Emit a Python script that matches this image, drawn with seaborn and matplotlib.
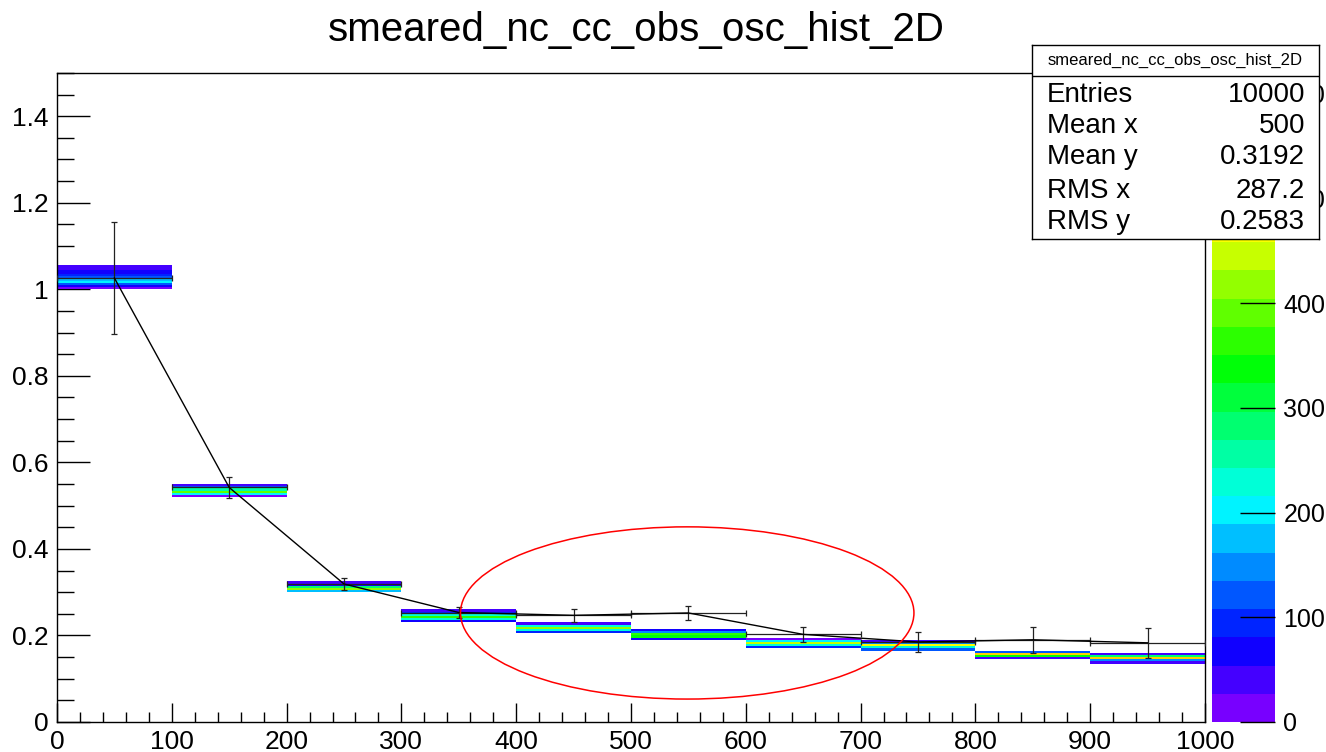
# smeared_nc_cc_obs_osc_hist_2D - 2D hist (COLZ) + profile na wierzchu
import numpy as np
import pandas as pd
import seaborn as sns
import matplotlib.pyplot as plt
from matplotlib.colors import ListedColormap, hsv_to_rgb
from matplotlib.patches import Ellipse
from matplotlib.ticker import MultipleLocator, FuncFormatter

plt.rcParams['font.family'] = ['Liberation Sans', 'DejaVu Sans']

# %%
# Data
x_centers = [50, 150, 250, 350, 450, 550, 650, 750, 850, 950]
x_edges = np.arange(0, 1001, 100)
dy = 0.005
y_edges = np.arange(0, 1.5 + dy / 2, dy)

# low edge of first filled y row per x bin, counts bottom -> top
row_low = [1.000, 0.520, 0.300, 0.230, 0.205, 0.190, 0.170, 0.165, 0.145, 0.135]
row_counts = [
    [20, 60, 120, 190, 170, 130, 100, 80, 60, 40, 30],
    [20, 200, 380, 250, 110, 40],
    [180, 420, 290, 80, 30],
    [60, 230, 360, 230, 90, 30],
    [90, 230, 410, 220, 50],
    [70, 350, 370, 150, 60],
    [100, 230, 450, 200, 20],
    [110, 220, 460, 160, 50],
    [50, 330, 500, 120],
    [30, 150, 490, 290, 40],
]

# profile (mean y per x bin) with errors
prof_mean = [1.026, 0.542, 0.319, 0.253, 0.2465, 0.252, 0.2025, 0.185, 0.19, 0.183]
prof_err = [0.13, 0.025, 0.014, 0.013, 0.015, 0.017, 0.018, 0.023, 0.03, 0.035]

stat_names = ['Entries', 'Mean x', 'Mean y', 'RMS x', 'RMS y']
stat_values = ['10000', '500', '0.3192', '287.2', '0.2583']

z_max = 620
n_levels = 23

# %%
rows = []
for xc, lo, counts in zip(x_centers, row_low, row_counts):
    for i, c in enumerate(counts):
        rows.append((xc, lo + (i + 0.5) * dy, c))
df = pd.DataFrame(rows, columns=['x', 'y', 'w'])

# ROOT-like rainbow palette (violet -> red)
hues = np.linspace(0.745, 0.0, n_levels)
palette = hsv_to_rgb(np.column_stack([hues, np.ones(n_levels), np.ones(n_levels)]))
cmap = ListedColormap(palette)

# %%
fig = plt.figure(figsize=(13.26, 7.52), dpi=100)
ax = fig.add_axes([0.043, 0.0399, 0.8657, 0.8631])
cax = fig.add_axes([0.914, 0.0399, 0.0475, 0.8631])

sns.histplot(df, x='x', y='y', weights='w', bins=[x_edges, y_edges],
             cmap=cmap, vmin=0, vmax=z_max, cbar=True, cbar_ax=cax, ax=ax,
             linewidth=0, antialiased=False, zorder=2)

ax.errorbar(x_centers, prof_mean, xerr=50, yerr=prof_err, fmt='none',
            ecolor='#222222', elinewidth=0.9, capsize=2.5, capthick=0.9, zorder=4)
sns.lineplot(x=x_centers, y=prof_mean, color='black', linewidth=1, ax=ax, zorder=4)

ax.add_patch(Ellipse((549, 0.252), 395, 0.398, fill=False, ec='red', lw=1.1, zorder=5))

ax.set_xlim(0, 1000)
ax.set_ylim(0, 1.5)
ax.set_xlabel('')
ax.set_ylabel('')
ax.xaxis.set_major_locator(MultipleLocator(100))
ax.xaxis.set_minor_locator(MultipleLocator(20))
ax.yaxis.set_major_locator(MultipleLocator(0.2))
ax.yaxis.set_minor_locator(MultipleLocator(0.05))
ax.yaxis.set_major_formatter(FuncFormatter(lambda v, p: f'{v:g}'))
ax.tick_params(which='both', direction='in', top=False, right=False, width=1, labelsize=19)
ax.tick_params(axis='y', which='major', length=24, pad=6)
ax.tick_params(axis='y', which='minor', length=12)
ax.tick_params(axis='x', which='major', length=14, pad=6)
ax.tick_params(axis='x', which='minor', length=7)
for s in ax.spines.values():
    s.set_color('black')
    s.set_linewidth(1)

# colorbar
cbar = ax.collections[0].colorbar
cbar.outline.set_visible(False)
cax.set_yticks(range(0, 700, 100))
cax.minorticks_off()
cax.tick_params(direction='in', length=25, width=1, labelsize=18, right=True, left=False, pad=6)

# title
fig.text(0.48, 0.96, 'smeared_nc_cc_obs_osc_hist_2D', ha='center', va='center', fontsize=29)

# stats box
sax = fig.add_axes([0.7783, 0.682, 0.2164, 0.258])
sax.set_zorder(10)
sax.set_facecolor('white')
sax.set_xticks([])
sax.set_yticks([])
sax.set_xlim(0, 1)
sax.set_ylim(0, 1)
for s in sax.spines.values():
    s.set_color('black')
    s.set_linewidth(1)
sax.axhline(0.84, color='black', lw=1)
sax.text(0.5, 0.923, 'smeared_nc_cc_obs_osc_hist_2D', ha='center', va='center', fontsize=12)
for i, (name, val) in enumerate(zip(stat_names, stat_values)):
    yy = [0.742, 0.582, 0.423, 0.247, 0.088][i]
    sax.text(0.052, yy, name, ha='left', va='center', fontsize=20)
    sax.text(0.951, yy, val, ha='right', va='center', fontsize=20)

fig.savefig('out.png', dpi=100)
